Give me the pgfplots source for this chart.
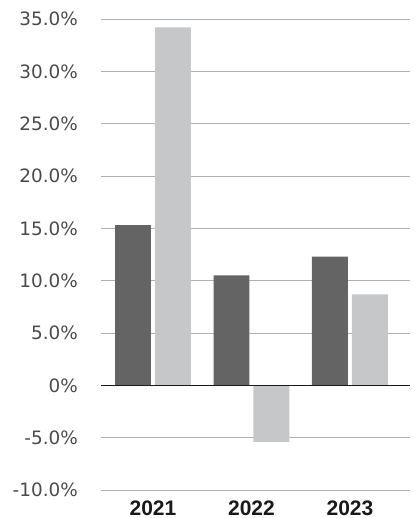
\documentclass[border=0pt]{standalone}
\usepackage{pgfplots}
\pgfplotsset{compat=1.18}
\usepackage{fontspec}
\setmainfont{DejaVu Sans}
\newfontfamily\yearfont{Liberation Sans}
\definecolor{darkbar}{HTML}{646464}
\definecolor{lightbar}{HTML}{C6C7C8}
\definecolor{gridc}{HTML}{B0B0B0}
\definecolor{txt}{HTML}{4A4A4A}
\begin{document}
\begin{tikzpicture}
\useasboundingbox (-101pt,-28pt) rectangle (312pt,490pt);
\begin{axis}[
  scale only axis,
  width=309pt, height=471pt,
  xmin=-0.528, xmax=2.61,
  ymin=-10, ymax=35,
  axis line style={draw=none},
  ytick={-10,-5,0,5,10,15,20,25,30,35},
  yticklabels={-10.0\%,-5.0\%,0\%,5.0\%,10.0\%,15.0\%,20.0\%,25.0\%,30.0\%,35.0\%},
  xtick={0,1,2},
  xticklabels={2021,2022,2023},
  major tick length=0pt,
  tick style={draw=none},
  ymajorgrids,
  grid style={gridc, line width=0.9pt},
  yticklabel style={anchor=base east, inner sep=0pt, xshift=-23pt, yshift=-6.7pt,
    font=\fontsize{18.4}{20}\selectfont, text=txt},
  xticklabel style={anchor=base, inner sep=0pt, yshift=-25pt,
    font=\yearfont\bfseries\fontsize{21}{23}\selectfont, text=black!90},
  ybar,
  bar width=0.365,
]
\addplot[fill=darkbar, draw=none, bar shift=-0.203] coordinates {(0,15.3) (1,10.5) (2,12.3)};
\addplot[fill=lightbar, draw=none, bar shift=0.203] coordinates {(0,34.2) (1,-5.4) (2,8.7)};
\draw[black!90, line width=1.2pt] (axis cs:-0.528,0) -- (axis cs:2.61,0);
\end{axis}
\end{tikzpicture}
\end{document}
